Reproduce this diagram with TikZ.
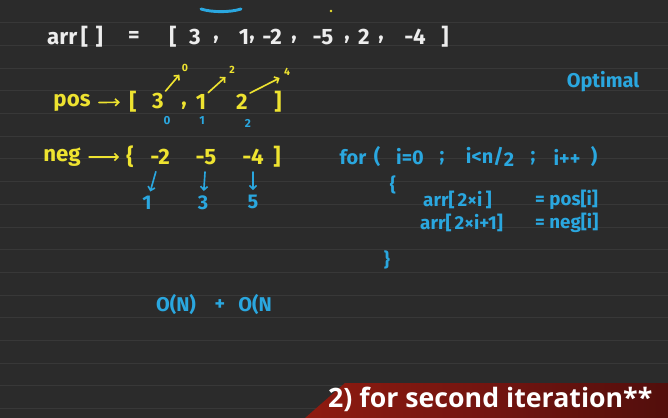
\documentclass[tikz,border=0pt]{standalone}
\usepackage{fontspec}
\usepackage{xcolor}
\usepackage{tikz}
\usetikzlibrary{arrows.meta}
\newfontfamily\handfont{Fira Sans}
\newfontfamily\bannerfont{Open Sans}
\definecolor{BoardBg}{HTML}{2B2B2B}
\definecolor{BoardLine}{HTML}{383838}
\definecolor{InkWhite}{HTML}{EDEDED}
\definecolor{InkYellow}{HTML}{EEE330}
\definecolor{InkBlue}{HTML}{2AA7DF}
\definecolor{BannerRed}{HTML}{8E1B10}
\definecolor{BannerMid}{HTML}{731510}
\definecolor{BannerDark}{HTML}{520E0C}
\tikzset{
  whiteink/.style={text=InkWhite,inner sep=0pt,font=\handfont\bfseries\fontsize{19}{19}\selectfont},
  yellowink/.style={text=InkYellow,inner sep=0pt,font=\handfont\bfseries\fontsize{19}{19}\selectfont},
  yellowtiny/.style={text=InkYellow,inner sep=0pt,font=\handfont\bfseries\fontsize{9}{9}\selectfont},
  blueink/.style={text=InkBlue,inner sep=0pt,font=\handfont\bfseries\fontsize{17}{17}\selectfont},
  bluecode/.style={text=InkBlue,inner sep=0pt,font=\handfont\bfseries\fontsize{16}{16}\selectfont},
  bluetiny/.style={text=InkBlue,inner sep=0pt,font=\handfont\bfseries\fontsize{10}{10}\selectfont},
  yarrow/.style={draw=InkYellow,line width=1.4pt,line cap=round,-{Straight Barb[length=3pt]}},
  barrow/.style={draw=InkBlue,line width=1.4pt,line cap=round,-{Straight Barb[length=3pt]}}
}

\begin{document}
\begin{tikzpicture}[x=0.03cm,y=-0.03cm]
\path[use as bounding box] (0,0) rectangle (668,418);
\fill[BoardBg] (0,0) rectangle (668,418);
\foreach \k in {1,...,18}
  \draw[BoardLine,line width=0.8pt] (0,22.7*\k) -- (668,22.7*\k);
% top strip
\draw[InkBlue,line width=2.5pt,line cap=round] (201,9) .. controls (212,12.5) and (230,12.5) .. (241,9);
\fill[InkYellow] (331,11) circle (1.3);
% given array
\node[whiteink] (arrname) at (75,37) {arr\,[\,\,]};
\node[whiteink] (eq) at (134,37) {=};
\node[whiteink] (ob) at (173,37) {[};
\node[whiteink] (a3) at (195,37) {3};
\node[whiteink] (c1) at (216,40) {,};
\node[whiteink] (a1) at (244,37) {1};
\node[whiteink] (c2) at (252,40) {,};
\node[whiteink] (am2) at (272,37) {-2};
\node[whiteink] (c3) at (294,40) {,};
\node[whiteink] (am5) at (323,37) {-5};
\node[whiteink] (c4) at (347,40) {,};
\node[whiteink] (a2) at (364,37) {2};
\node[whiteink] (c5) at (381,40) {,};
\node[whiteink] (am4) at (415,37) {-4};
\node[whiteink] (cb) at (445,37) {]};
% pos row
\node[yellowink] (pos) at (72,103) {pos};
\node[yellowink] (posopen) at (133,102) {[};
\node[yellowink] (p3) at (158,101) {3};
\node[yellowink] (pc) at (184,106) {,};
\node[yellowink] (p1) at (201,102) {1};
\node[yellowink] (p2) at (242,102) {2};
\node[yellowink] (posclose) at (278,102) {]};
\draw[yarrow,shorten <=7pt,shorten >=8pt] (pos) -- (posopen);
\node[yellowtiny] (t0) at (185,68) {0};
\node[yellowtiny] (t2) at (232,70) {2};
\node[yellowtiny] (t4) at (287,72) {4};
\draw[yarrow,shorten <=2pt,shorten >=3pt] (p3.north east) -- (t0.south west);
\draw[yarrow,shorten <=2pt,shorten >=4pt] (p1.north east) -- (t2.south west);
\draw[yarrow,shorten <=2pt,shorten >=4pt] (p2.north east) -- (t4.south west);
\node[bluetiny] (i0) at (167,121) {0};
\node[bluetiny] (i1) at (202,121) {1};
\node[bluetiny] (i2) at (248,123) {2};
% neg row
\node[yellowink] (neg) at (62,157) {neg};
\node[yellowink] (negopen) at (130,157) {\{};
\node[yellowink] (n2) at (160,157) {-2};
\node[yellowink] (n5) at (206,157) {-5};
\node[yellowink] (n4) at (253,157) {-4};
\node[yellowink] (negclose) at (277,157) {]};
\draw[yarrow,shorten <=7pt,shorten >=6pt] (neg) -- (negopen);
\node[blueink] (j1) at (147,203) {1};
\node[blueink] (j3) at (203,203) {3};
\node[blueink] (j5) at (253,202) {5};
\draw[barrow,shorten <=6pt,shorten >=4pt] (n2) -- (j1);
\draw[barrow,shorten <=6pt,shorten >=4pt] (n5) -- (j3);
\draw[barrow,shorten <=6pt,shorten >=4pt] (n4) -- (j5);
% optimal approach
\node[blueink] (optimal) at (603,82) {Optimal};
\node[blueink] (kwfor) at (353,157) {for};
\node[blueink] (lpar) at (377,157) {(};
\node[blueink] (init) at (410,157) {i=0};
\node[blueink] (semi1) at (442,158) {;};
\node[blueink] (cond) at (490,157) {i<n/\raisebox{-3pt}{2}};
\node[blueink] (semi2) at (533,158) {;};
\node[blueink] (incr) at (567,157) {i++};
\node[blueink] (rpar) at (594,157) {)};
\node[bluecode] (openbrace) at (393,185) {\{};
\node[bluecode,anchor=west] (evenlhs) at (423,200) {arr[\,2×i\,]};
\node[bluecode,anchor=west] (evenrhs) at (535,200) {= pos[i]};
\node[bluecode,anchor=west] (oddlhs) at (420,223) {arr[\,2×i+1]};
\node[bluecode,anchor=west] (oddrhs) at (535,223) {= neg[i]};
\node[bluecode] (closebrace) at (387,260) {\}};
\node[blueink] (cost1) at (176,305) {O(N)};
\node[blueink] (plus) at (220,305) {+};
\node[blueink] (cost2) at (255,305) {O(N};
% banner
\shade[left color=BannerRed,right color=BannerDark,middle color=BannerMid] (345,383) -- (668,383) -- (668,418) -- (305,418) -- cycle;
\node[anchor=base west,inner sep=0pt,text=white,font=\bannerfont\bfseries\fontsize{22.8}{22.8}\selectfont] (banner) at (328,407) {2) for second iteration**};
\end{tikzpicture}
\end{document}
